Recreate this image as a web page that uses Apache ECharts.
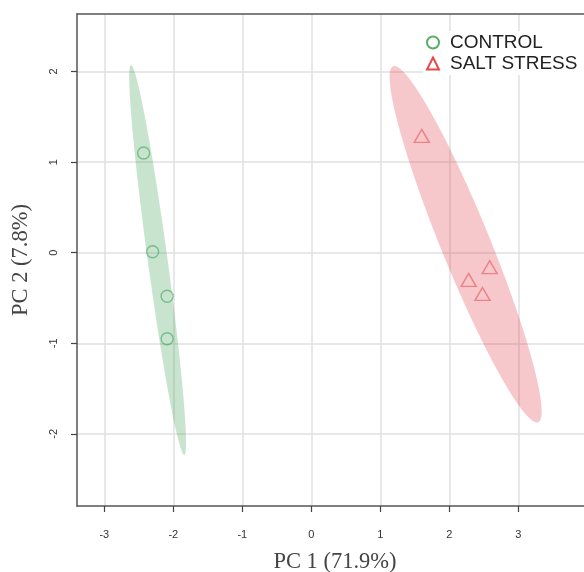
<!DOCTYPE html>
<html><head><meta charset="utf-8">
<script src="https://cdn.jsdelivr.net/npm/echarts@6/dist/echarts.min.js"></script>
<style>html,body{margin:0;padding:0;background:#fff}#c{width:584px;height:572px}</style>
</head><body><div id="c"></div>
<script>
// Data
var groups = ['CONTROL', 'SALT STRESS'];
var controlPoints = [[-2.43, 1.10], [-2.30, 0.01], [-2.09, -0.48], [-2.09, -0.95]];
var saltPoints = [[1.60, 1.29], [2.585, -0.16], [2.28, -0.30], [2.48, -0.455]];
// ellipse conjugate semi-axis vectors in data units [ax, ay, bx, by]
var controlEllipseAxes = [0.386, -2.152, -0.142, -0.015];
var saltEllipseAxes = [1.051, -1.965, -0.330, -0.102];
var xTicks = [-3, -2, -1, 0, 1, 2, 3];
var yTicks = [-2, -1, 0, 1, 2];
var xName = 'PC 1 (71.9%)';
var yName = 'PC 2 (7.8%)';

function mean(pts) {
  var sx = 0, sy = 0;
  pts.forEach(function (p) { sx += p[0]; sy += p[1]; });
  return [sx / pts.length, sy / pts.length];
}
var cC = mean(controlPoints), cS = mean(saltPoints);
var ellipseData = [
  [cC[0], cC[1]].concat(controlEllipseAxes).concat([0]),
  [cS[0], cS[1]].concat(saltEllipseAxes).concat([1])
];
var ellipseFill = ['rgba(35,147,63,0.25)', 'rgba(220,35,47,0.25)'];

var chart = echarts.init(document.getElementById('c'), null, {renderer: 'canvas'});
var XMIN = -3.396, XMAX = 4.082, YMIN = -2.796, YMAX = 2.635;
var frameLine = {show: true, onZero: false, lineStyle: {color: '#555', width: 1.5}};
var tickStyle = {show: true, length: 6, lineStyle: {color: '#444', width: 1.2}};
var splitStyle = {show: true, lineStyle: {color: '#e0e0e0', width: 1.5}};
var nameStyle = {fontFamily: 'Liberation Serif', fontSize: 22.5, color: '#444'};
chart.setOption({
  animation: false,
  backgroundColor: '#fff',
  grid: {left: 77, top: 14, width: 516, height: 492, show: false, outerBoundsMode: 'none', containLabel: false},
  xAxis: [{
    type: 'value', min: XMIN, max: XMAX, position: 'bottom',
    name: xName, nameLocation: 'middle', nameGap: 45,
    nameTextStyle: nameStyle,
    axisLine: frameLine,
    axisTick: Object.assign({}, tickStyle, {customValues: xTicks}),
    splitLine: splitStyle,
    axisLabel: {customValues: xTicks, fontFamily: 'Liberation Sans', fontSize: 11, color: '#333', margin: 23}
  }, {
    type: 'value', min: XMIN, max: XMAX, position: 'top',
    axisLine: frameLine, axisTick: {show: false}, axisLabel: {show: false}, splitLine: {show: false}
  }],
  yAxis: {
    type: 'value', min: YMIN, max: YMAX,
    name: yName, nameLocation: 'middle', nameGap: 44, nameRotate: 90,
    nameTextStyle: nameStyle,
    axisLine: frameLine,
    axisTick: Object.assign({}, tickStyle, {customValues: yTicks}),
    splitLine: splitStyle,
    axisLabel: {customValues: yTicks, rotate: 90, fontFamily: 'Liberation Sans', fontSize: 11, color: '#333', margin: 18}
  },
  legend: {
    orient: 'vertical', left: 423, top: 31,
    backgroundColor: '#fff', padding: [2, 12, 2, 3], itemGap: 2,
    itemWidth: 12, itemHeight: 12,
    textStyle: {fontFamily: 'Liberation Sans', fontSize: 19, color: '#222', lineHeight: 19, padding: [0, 0, 0, 6]},
    data: [
      {name: groups[0], icon: 'emptyCircle', itemStyle: {color: '#2e9a3c', borderColor: '#2e9a3c', borderWidth: 2}},
      {name: groups[1], icon: 'emptyTriangle', itemStyle: {color: '#e41a1c', borderColor: '#e41a1c', borderWidth: 2}}
    ]
  },
  series: [
    {
      type: 'custom', name: 'ellipses', silent: true, z: 1,
      encode: {x: 0, y: 1},
      data: ellipseData,
      renderItem: function (params, api) {
        var cx = api.value(0), cy = api.value(1);
        var ax = api.value(2), ay = api.value(3), bx = api.value(4), by = api.value(5);
        var g = api.value(6);
        var pts = [];
        for (var i = 0; i < 120; i++) {
          var t = i / 120 * Math.PI * 2;
          pts.push(api.coord([cx + Math.cos(t) * ax + Math.sin(t) * bx, cy + Math.cos(t) * ay + Math.sin(t) * by]));
        }
        return {type: 'polygon', shape: {points: pts}, style: {fill: ellipseFill[g], stroke: null}};
      }
    },
    {
      type: 'scatter', name: groups[0], z: 3, symbol: 'circle', symbolSize: 12,
      data: controlPoints,
      itemStyle: {color: 'rgba(255,255,255,0)', borderColor: 'rgba(60,165,90,0.75)', borderWidth: 1.4}
    },
    {
      type: 'scatter', name: groups[1], z: 3, symbol: 'triangle', symbolSize: [15, 13],
      data: saltPoints,
      itemStyle: {color: 'rgba(255,255,255,0)', borderColor: 'rgba(235,80,85,0.75)', borderWidth: 1.4}
    }
  ]
});
</script></body></html>
